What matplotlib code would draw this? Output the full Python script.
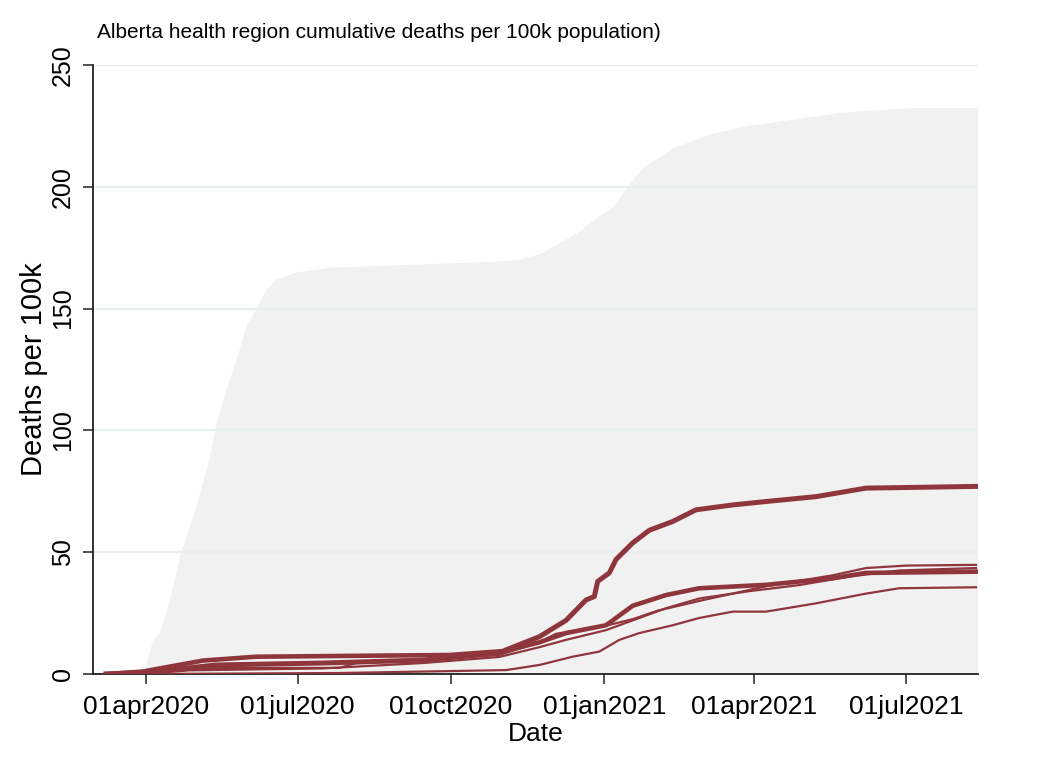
import numpy as np
import pandas as pd
import matplotlib
matplotlib.use('Agg')
import matplotlib.pyplot as plt
import matplotlib.dates as mdates

plt.rcParams['font.family'] = ['Liberation Sans', 'DejaVu Sans']

# grey background = highest regional rate
bg_dates = ['2020-03-08', '2020-03-29', '2020-03-31', '2020-04-05', '2020-04-09', '2020-04-15',
            '2020-04-21', '2020-05-01', '2020-05-09', '2020-05-13', '2020-05-19', '2020-05-25',
            '2020-05-31', '2020-06-06', '2020-06-12', '2020-06-18', '2020-06-30', '2020-07-20',
            '2020-08-31', '2020-10-30', '2020-11-12', '2020-11-23', '2020-12-05', '2020-12-15',
            '2020-12-29', '2021-01-06', '2021-01-18', '2021-01-24', '2021-02-11', '2021-03-07',
            '2021-03-27', '2021-04-16', '2021-05-22', '2021-06-15', '2021-07-05', '2021-08-13']
bg_vals = [0, 0, 2, 14, 17, 30,
           48, 69, 89, 103, 117, 129,
           143, 150, 158, 162, 165, 167,
           168, 169.5, 170.5, 172.5, 177, 181,
           188, 192, 203, 208, 216, 222,
           225, 227, 230.5, 231.7, 232.5, 232.5]

# zone lines (cumulative deaths per 100k)
a_dates = ['2020-03-08', '2020-03-30', '2020-05-13', '2020-07-16', '2020-09-14', '2020-10-30',
           '2020-11-03', '2020-11-23', '2020-12-09', '2020-12-21', '2020-12-26', '2020-12-28',
           '2021-01-04', '2021-01-08', '2021-01-18', '2021-01-28', '2021-02-11', '2021-02-25',
           '2021-03-19', '2021-04-08', '2021-05-08', '2021-06-07', '2021-08-12']
a_vals = [0, 0.5, 3.7, 4.5, 5.7, 8.6,
          9.9, 15.3, 22, 30.4, 31.8, 38,
          41.5, 47, 53.8, 59, 62.6, 67.4,
          69.4, 70.8, 72.8, 76.3, 77]

b_dates = ['2020-03-08', '2020-03-30', '2020-04-27', '2020-05-05', '2020-06-06', '2020-09-30',
           '2020-11-03', '2020-11-23', '2020-12-09', '2021-01-02', '2021-01-18', '2021-02-07',
           '2021-02-27', '2021-04-08', '2021-05-18', '2021-06-07', '2021-08-12']
b_vals = [0, 1, 4.5, 5.5, 7.1, 7.8,
          9.5, 13, 16.8, 20, 28, 32.4,
          35.2, 36.6, 39.3, 41.5, 42]

c_dates = ['2020-03-08', '2020-03-30', '2020-05-03', '2020-07-26', '2020-08-05', '2020-09-30',
           '2020-10-30', '2020-11-23', '2020-12-03', '2020-12-31', '2021-01-18', '2021-02-02',
           '2021-02-27', '2021-04-08', '2021-05-18', '2021-06-07', '2021-07-01', '2021-08-12']
c_vals = [0, 0.3, 2.5, 2.5, 4.5, 6.5,
          7.8, 13, 16.5, 19.5, 22.5, 26,
          30, 36, 40.5, 43.5, 44.5, 44.8]

d_dates = ['2020-03-08', '2020-03-30', '2020-04-27', '2020-07-16', '2020-09-14', '2020-10-30',
           '2020-11-23', '2020-12-09', '2021-01-02', '2021-01-18', '2021-02-07', '2021-02-27',
           '2021-03-29', '2021-04-28', '2021-05-28', '2021-06-27', '2021-08-12']
d_vals = [0, 0, 1.5, 2.3, 4.5, 7,
          11, 14, 18, 22, 27, 31,
          34, 36.5, 40, 42.5, 43.5]

e_dates = ['2020-03-08', '2020-03-30', '2020-07-26', '2020-09-14', '2020-11-03', '2020-11-23',
           '2020-12-13', '2020-12-29', '2021-01-10', '2021-01-22', '2021-02-11', '2021-02-27',
           '2021-03-19', '2021-04-08', '2021-05-08', '2021-06-07', '2021-06-27', '2021-08-12']
e_vals = [0, 0, 0.4, 1, 1.6, 3.7,
          7.1, 9.2, 14, 16.8, 20, 23,
          25.6, 25.6, 29, 33, 35.2, 35.6]

tick_dates = ['2020-04-01', '2020-07-01', '2020-10-01', '2021-01-01', '2021-04-01', '2021-07-01']

maroon = '#8f363d'

fig = plt.figure(figsize=(10.56, 7.68), dpi=100)
ax = fig.add_axes([0.0881, 0.1224, 0.838, 0.793])

ax.fill_between(pd.to_datetime(bg_dates), 0, bg_vals, color='#f1f1f1', linewidth=0, zorder=1)

ax.plot(pd.to_datetime(e_dates), e_vals, color=maroon, lw=1.6, zorder=3)
ax.plot(pd.to_datetime(d_dates), d_vals, color=maroon, lw=1.6, zorder=3)
ax.plot(pd.to_datetime(c_dates), c_vals, color=maroon, lw=1.6, zorder=3)
ax.plot(pd.to_datetime(b_dates), b_vals, color=maroon, lw=3.3, zorder=3)
ax.plot(pd.to_datetime(a_dates), a_vals, color=maroon, lw=3.6, zorder=3)

x0 = pd.Timestamp('2020-04-01')
ax.set_xlim(x0 - pd.Timedelta(days=31.8), x0 + pd.Timedelta(days=499.2))
ax.set_ylim(0, 250)

ax.set_xticks(pd.to_datetime(tick_dates))
ax.xaxis.set_major_formatter(matplotlib.ticker.FuncFormatter(
    lambda v, p: mdates.num2date(v).strftime('%d%b%Y').lower()))
ax.set_yticks([0, 50, 100, 150, 200, 250])

ax.yaxis.grid(True, color='#e8efef', lw=1.6)
ax.xaxis.grid(False)

for s in ['top', 'right']:
    ax.spines[s].set_visible(False)
for s in ['left', 'bottom']:
    ax.spines[s].set_linewidth(1.3)
    ax.spines[s].set_color('#222222')

ax.tick_params(axis='both', direction='out', length=7, width=1.1, color='#222222')
ax.tick_params(axis='x', labelsize=19, pad=8)
ax.tick_params(axis='y', labelsize=18, labelrotation=90, pad=6)
for lab in ax.get_yticklabels():
    lab.set_va('center')

ax.set_xlabel('Date', fontsize=19, labelpad=2)
ax.set_ylabel('Deaths per 100k', fontsize=21, labelpad=2)
fig.text(0.092, 0.958, 'Alberta health region cumulative deaths per 100k population)',
         fontsize=15, ha='left', va='center')

fig.savefig('out.png', dpi=100, facecolor='white')
